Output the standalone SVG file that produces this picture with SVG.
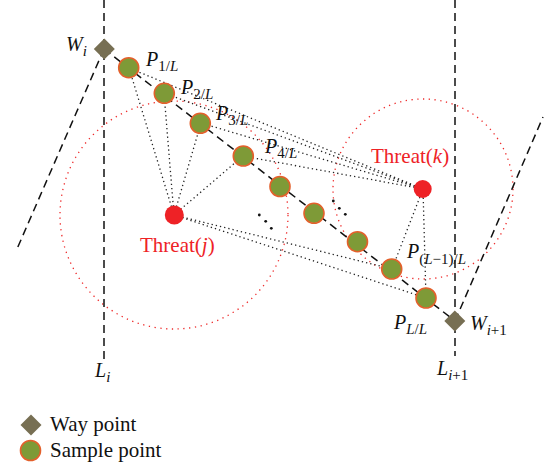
<svg xmlns="http://www.w3.org/2000/svg" width="548" height="466" viewBox="0 0 548 466">
<style>
.dash{fill:none;stroke:#111;stroke-width:1.5;stroke-dasharray:8 5}
.dot{fill:none;stroke:#222;stroke-width:1.3;stroke-dasharray:1.3 3}
.rdot{fill:none;stroke:#ee2a2a;stroke-width:1.3;stroke-dasharray:1.3 4.5}
.wp{fill:#776f53}
.sp{fill:#7e9a37;stroke:#e3602b;stroke-width:1.6}
.th{fill:#ee2226}
.lbl{font-family:"Liberation Serif",serif;font-size:20px;fill:#111;font-style:italic}
.sub{font-size:15px}
.up{font-style:normal}
.tl{font-family:"Liberation Serif",serif;font-size:21px;fill:#ee2226}
.leg{font-family:"Liberation Serif",serif;font-size:21px;fill:#111}
</style>
<rect width="548" height="466" fill="#fff"/>
<g id="threat-regions">
<circle class="rdot" cx="174" cy="215" r="114"/>
<circle class="rdot" cx="423" cy="189" r="90"/>
</g>
<g id="connectors">
<line class="dash" x1="104" y1="0" x2="104" y2="360"/>
<line class="dash" x1="455" y1="0" x2="455" y2="356"/>
<line class="dash" x1="104" y1="49" x2="17" y2="249"/>
<line class="dash" x1="455" y1="321" x2="543" y2="117"/>
<line class="dash" x1="104" y1="49" x2="455" y2="321"/>
<line class="dot" x1="174" y1="215" x2="129" y2="68"/>
<line class="dot" x1="174" y1="215" x2="164" y2="93"/>
<line class="dot" x1="174" y1="215" x2="201" y2="123"/>
<line class="dot" x1="174" y1="215" x2="243" y2="156"/>
<line class="dot" x1="174" y1="215" x2="392" y2="269"/>
<line class="dot" x1="174" y1="215" x2="426" y2="298"/>
<line class="dot" x1="423" y1="189" x2="129" y2="68"/>
<line class="dot" x1="423" y1="189" x2="164" y2="93"/>
<line class="dot" x1="423" y1="189" x2="201" y2="123"/>
<line class="dot" x1="423" y1="189" x2="243" y2="156"/>
<line class="dot" x1="423" y1="189" x2="392" y2="269"/>
<line class="dot" x1="423" y1="189" x2="426" y2="298"/>
<g fill="#111">
<circle cx="259.3" cy="215" r="1.4"/><circle cx="265.7" cy="221.3" r="1.4"/><circle cx="271.3" cy="228.3" r="1.4"/>
<circle cx="333.3" cy="201" r="1.4"/><circle cx="339.3" cy="208.3" r="1.4"/><circle cx="345.3" cy="214.3" r="1.4"/>
</g>
</g>
<g id="W_i"><polygon class="wp" points="104.3,38.5 114.8,49 104.3,59.5 93.8,49"/><text class="lbl" x="66" y="51">W<tspan class="sub" dy="5">i</tspan></text></g>
<g id="W_i1"><polygon class="wp" points="454.8,310.5 465.3,321 454.8,331.5 444.3,321"/><text class="lbl" x="470" y="330">W<tspan class="sub" dy="5">i<tspan class="up">+1</tspan></tspan></text></g>
<g id="P1"><circle class="sp" cx="128.7" cy="67.7" r="10"/><text class="lbl" x="146" y="66">P<tspan class="sub" dy="5"><tspan class="up">1/</tspan>L</tspan></text></g>
<g id="P2"><circle class="sp" cx="164.3" cy="93.3" r="10"/><text class="lbl" x="181" y="94">P<tspan class="sub" dy="5"><tspan class="up">2/</tspan>L</tspan></text></g>
<g id="P3"><circle class="sp" cx="200.3" cy="123.3" r="10"/><text class="lbl" x="216" y="120">P<tspan class="sub" dy="5"><tspan class="up">3/</tspan>L</tspan></text></g>
<g id="P4"><circle class="sp" cx="243.3" cy="156" r="10"/><text class="lbl" x="265" y="153">P<tspan class="sub" dy="5"><tspan class="up">4/</tspan>L</tspan></text></g>
<g id="P5"><circle class="sp" cx="280" cy="186.5" r="10"/></g>
<g id="P6"><circle class="sp" cx="314" cy="213.3" r="10"/></g>
<g id="P7"><circle class="sp" cx="357.5" cy="241.7" r="10"/></g>
<g id="P8"><circle class="sp" cx="391.7" cy="269" r="10"/><text class="lbl" x="407" y="258">P<tspan class="sub" dy="6"><tspan class="up">(</tspan>L<tspan class="up">−1)/</tspan>L</tspan></text></g>
<g id="P9"><circle class="sp" cx="426" cy="298" r="10"/><text class="lbl" x="394" y="329">P<tspan class="sub" dy="5">L<tspan class="up">/</tspan>L</tspan></text></g>
<g id="threat_j"><circle class="th" cx="174.3" cy="215" r="9.5"/><text class="tl" x="140" y="252">Threat(<tspan font-style="italic">j</tspan>)</text></g>
<g id="threat_k"><circle class="th" cx="422.7" cy="189" r="9"/><text class="tl" x="371" y="163">Threat(<tspan font-style="italic">k</tspan>)</text></g>
<g id="L_i"><text class="lbl" x="95" y="377">L<tspan class="sub" dy="5">i</tspan></text></g>
<g id="L_i1"><text class="lbl" x="437" y="375">L<tspan class="sub" dy="5">i<tspan class="up">+1</tspan></tspan></text></g>
<g id="legend">
<polygon class="wp" points="31,414.5 41.5,425 31,435.5 20.5,425"/>
<text class="leg" x="50" y="431">Way point</text>
<circle class="sp" cx="30.5" cy="450.5" r="10"/>
<text class="leg" x="50" y="457">Sample point</text>
</g>
</svg>
